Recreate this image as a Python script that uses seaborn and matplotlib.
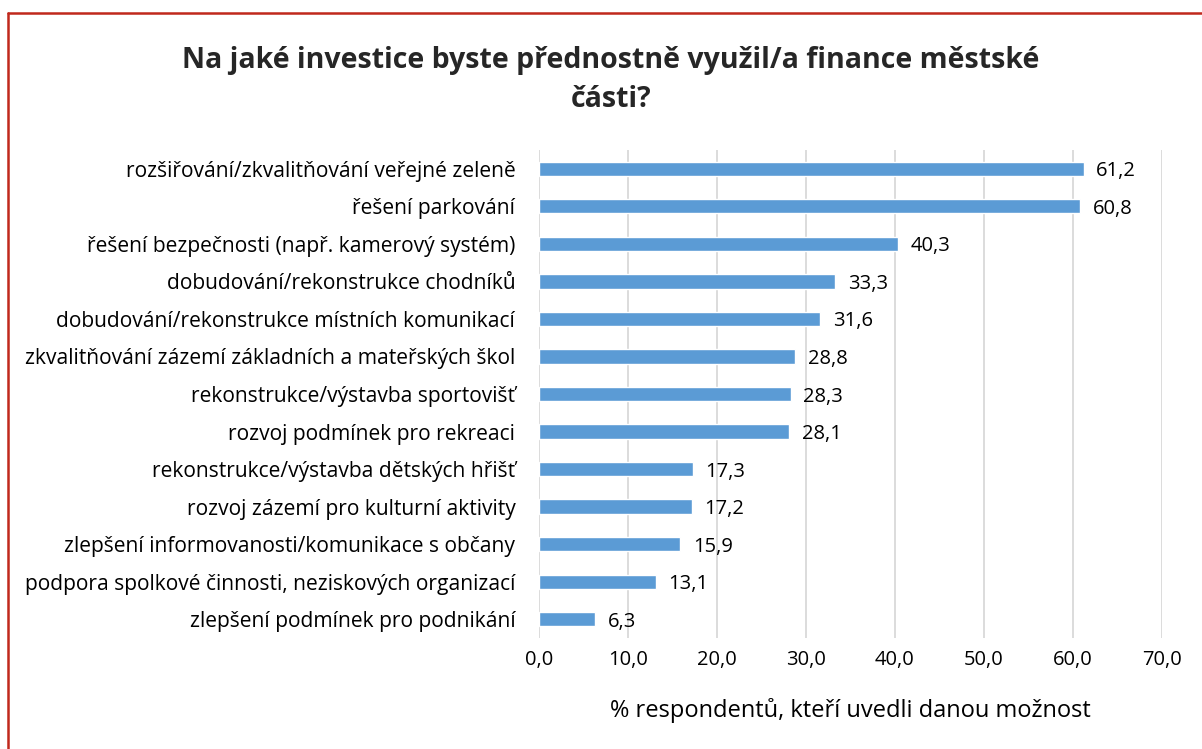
# plot.py
# Horizontal bar chart - survey on preferred municipal investments

import matplotlib.pyplot as plt
import matplotlib.lines as mlines
import pandas as pd
import seaborn as sns

categories = [
    "rozšiřování/zkvalitňování veřejné zeleně",
    "řešení parkování",
    "řešení bezpečnosti (např. kamerový systém)",
    "dobudování/rekonstrukce chodníků",
    "dobudování/rekonstrukce místních komunikací",
    "zkvalitňování zázemí základních a mateřských škol",
    "rekonstrukce/výstavba sportovišť",
    "rozvoj podmínek pro rekreaci",
    "rekonstrukce/výstavba dětských hřišť",
    "rozvoj zázemí pro kulturní aktivity",
    "zlepšení informovanosti/komunikace s občany",
    "podpora spolkové činnosti, neziskových organizací",
    "zlepšení podmínek pro podnikání",
]
values = [61.2, 60.8, 40.3, 33.3, 31.6, 28.8, 28.3, 28.1, 17.3, 17.2, 15.9, 13.1, 6.3]
x_ticks = [0, 10, 20, 30, 40, 50, 60, 70]

title = "Na jaké investice byste přednostně využil/a finance městské\nčásti?"
x_label = "% respondentů, kteří uvedli danou možnost"

df = pd.DataFrame({"kategorie": categories, "hodnota": values})

sns.set_style("white")
plt.rcParams["font.family"] = ["Open Sans", "DejaVu Sans"]

fig = plt.figure(figsize=(12.02, 7.49), dpi=100)
ax = fig.add_axes([0.4484, 0.1482, 0.9667 - 0.4484, 0.7997 - 0.1482])

sns.barplot(data=df, x="hodnota", y="kategorie", orient="h",
            color="#5B9BD5", saturation=1, width=0.38, ax=ax)

ax.set_xlim(0, 70)
ax.set_xticks(x_ticks)
ax.set_xticklabels([f"{t:.1f}".replace(".", ",") for t in x_ticks], fontsize=14.5, color="black")
ax.tick_params(axis="x", length=0, pad=9)
ax.tick_params(axis="y", length=0, pad=17, labelsize=15.1, labelcolor="black")
ax.grid(axis="x", color="#D9D9D9", linewidth=1.3)
ax.set_axisbelow(True)
for s in ax.spines.values():
    s.set_visible(False)

ax.set_ylabel("")
ax.set_xlabel(x_label, fontsize=17, color="black", labelpad=20)

# value labels right of each bar
for i, v in enumerate(values):
    ax.annotate(f"{v:.1f}".replace(".", ","), (v, i), xytext=(9, 0),
                textcoords="offset points", va="center_baseline", ha="left",
                fontsize=14.5, color="black")

fig.suptitle(title, fontsize=20.5, fontweight="bold", x=0.508, y=0.938, linespacing=1.45)

# red frame (only top and left edge visible in the original crop)
fig.add_artist(mlines.Line2D([8 / 1202, 1.0], [1 - 13 / 749, 1 - 13 / 749],
                             color="#C0281C", linewidth=1.8, transform=fig.transFigure))
fig.add_artist(mlines.Line2D([8 / 1202, 8 / 1202], [0, 1 - 13 / 749],
                             color="#C0281C", linewidth=1.8, transform=fig.transFigure))

fig.savefig("out.png", dpi=100)
